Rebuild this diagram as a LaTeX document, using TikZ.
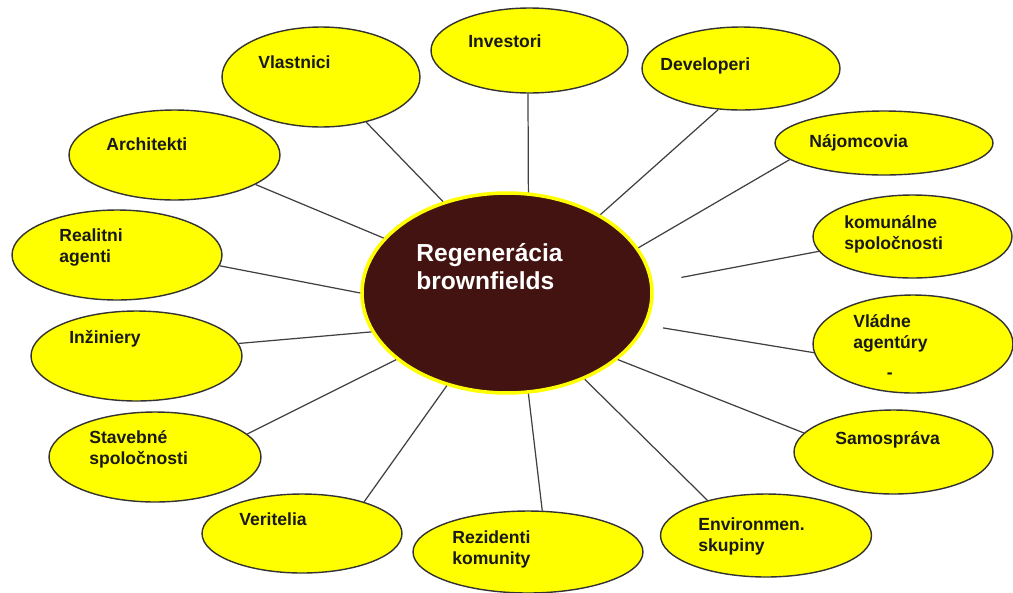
\documentclass[tikz,border=0pt]{standalone}
\usepackage{fontspec}
\setmainfont{Liberation Sans}
\usetikzlibrary{shapes.geometric}
\definecolor{hubbrown}{RGB}{66,19,16}
\definecolor{bubbleyellow}{RGB}{255,255,0}
\tikzset{
  bubble/.style={ellipse, draw=black!80, line width=0.8pt, fill=bubbleyellow, inner sep=0pt},
  core/.style={ellipse, draw=bubbleyellow, line width=2pt, fill=hubbrown, inner sep=0pt},
  lbl/.style={anchor=base west, inner sep=0pt, text width=3cm, align=left,
    font=\fontsize{10}{12.5}\selectfont\bfseries, text=black!90},
  link/.style={draw=black!75, line width=0.7pt},
}
\begin{document}
\begin{tikzpicture}[x=0.02cm,y=-0.02cm]
    \useasboundingbox (0,0) rectangle (1013,592);
    % actors round the hub: name/x/y/width/height
    \foreach \nm/\cx/\cy/\w/\h in {
        vlast/321/77/3.96/2.00, invest/529.5/50.5/3.94/1.70,
        devel/741/68.5/3.96/1.66, najom/884/143/4.36/1.28,
        komun/912.5/236.5/3.98/1.66, vlad/913/344/4.00/1.96,
        samo/893.5/452/3.98/1.68, envir/766/535.5/4.22/1.66,
        rezid/528/552/4.60/1.64, veri/302/533.5/4.00/1.58,
        stav/155/457/4.24/1.80, inzin/136.5/356/4.22/1.80,
        real/117/255/4.20/1.80, arch/174.5/155/4.22/1.80}
        \node[bubble, minimum width=\w cm, minimum height=\h cm] (\nm) at (\cx,\cy) {};
    \node[core, minimum width=5.8cm, minimum height=4cm] (hub) at (507,293) {};
    % labels
    \node[lbl, text=white, text width=4cm, font=\fontsize{14}{16.5}\selectfont\bfseries]
        (hub-t) at (416,261) {Regenerácia\\brownfields};
    \node[lbl] (vlast-t) at (258,68) {Vlastnici};
    \node[lbl] (invest-t) at (468,47) {Investori};
    \node[lbl] (devel-t) at (660,70) {Developeri};
    \node[lbl] (najom-t) at (809,147) {Nájomcovia};
    \node[lbl] (komun-t) at (844,228) {komunálne\\spoločnosti};
    \node[lbl] (vlad-t) at (853,327) {Vládne\\agentúry\\[1.6mm]\hspace*{0.67cm}-};
    \node[lbl] (samo-t) at (835,444) {Samospráva};
    \node[lbl] (envir-t) at (698,530) {Environmen.\\skupiny};
    \node[lbl] (rezid-t) at (452,543) {Rezidenti\\komunity};
    \node[lbl] (veri-t) at (239,525) {Veritelia};
    \node[lbl] (stav-t) at (89,443) {Stavebné\\spoločnosti};
    \node[lbl] (inzin-t) at (69,343) {Inžiniery};
    \node[lbl] (real-t) at (59,241) {Realitni\\agenti};
    \node[lbl] (arch-t) at (106,150) {Architekti};
    % spokes
    \foreach \nm/\a/\b in {vlast/315.6/125, arch/340.2/156.5, real/354.6/180,
        inzin/7.2/196, stav/14.7/211.5, veri/27.3/237, rezid/71.6/282.5,
        envir/149/312.3, samo/168.1/329.6, najom/190.9/19.8,
        devel/241.6/40.5, invest/268/78}
        \draw[link] (\nm.\a) -- (hub.\b);
    \draw[link, shorten >=0.34cm] (vlad.185.7) -- (hub.347);
    \draw[link, shorten >=0.58cm] (komun.189.2) -- (hub.4.4);
\end{tikzpicture}
\end{document}
